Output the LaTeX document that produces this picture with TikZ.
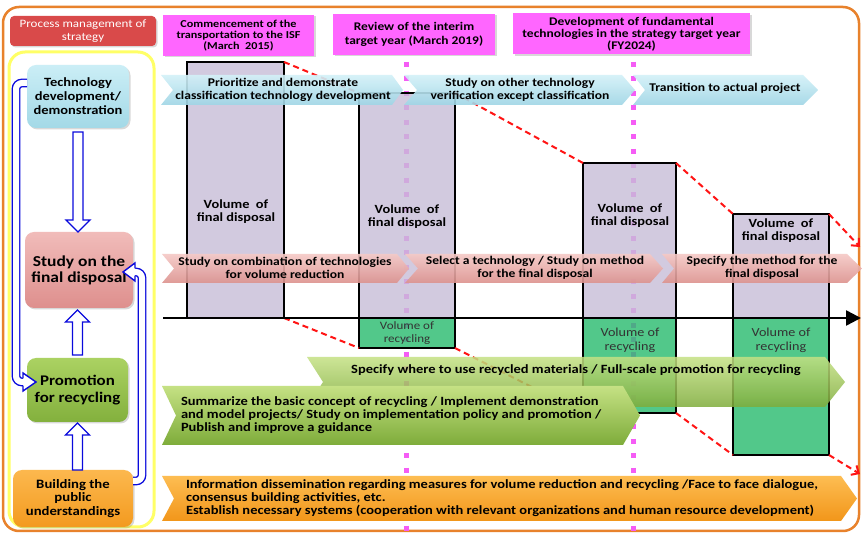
\documentclass[tikz,border=0pt]{standalone}
\usepackage{fontspec}
\setmainfont{Carlito}[FakeStretch=1.15]
\usetikzlibrary{arrows.meta,calc,shadows}
\definecolor{orfr}{HTML}{E8822C}
\definecolor{yfr}{HTML}{FFFF66}
\definecolor{titlered}{HTML}{D94A4A}
\definecolor{mag}{HTML}{FF66FF}
\definecolor{dotc}{HTML}{F55CF5}
\definecolor{barl}{RGB}{199,189,216}
\definecolor{barg}{RGB}{39,187,109}
\definecolor{lblue}{HTML}{0A0ADC}
\definecolor{cyT}{HTML}{D3F1F8}
\definecolor{cyB}{HTML}{9ED5E5}
\definecolor{pkT}{HTML}{F5C9C6}
\definecolor{pkB}{HTML}{DC918D}
\definecolor{grT}{HTML}{C5E184}
\definecolor{grB}{HTML}{7EAC3A}
\definecolor{orT}{HTML}{FDBD52}
\definecolor{orB}{HTML}{F2961A}
\definecolor{tbT}{HTML}{CBEEF6}
\definecolor{tbB}{HTML}{A3D9E7}
\definecolor{sbT}{HTML}{F1BCBA}
\definecolor{sbB}{HTML}{DE8F8D}
\definecolor{pbT}{HTML}{ABD262}
\definecolor{pbB}{HTML}{83B03D}
\definecolor{bbT}{HTML}{FCB84E}
\definecolor{bbB}{HTML}{F39A1F}
\definecolor{redd}{HTML}{FF1414}
\newcommand\fsz[2]{\fontsize{#1}{#2}\selectfont}
% chevron: style, xl, yt, xr, yb, notch, tip
\newcommand\chev[7]{\path[#1] (#2,#3) -- ({#4-#7},#3) -- (#4,{(#3+#5)/2}) -- ({#4-#7},#5) -- (#2,#5) -- ({#2+#6},{(#3+#5)/2}) -- cycle;}
% vertical block arrow from shaft start #1 to tip #2
\newcommand\varrow[2]{\draw[barrow] let \p1=(#1), \p2=(#2), \n1={ifthenelse(\y2>\y1,1,-1)} in
 ({\x1-5pt},\y1) -- ({\x1-5pt},{\y2-\n1*12pt}) -- ({\x1-12pt},{\y2-\n1*12pt}) -- (\x1,\y2) -- ({\x1+12pt},{\y2-\n1*12pt}) -- ({\x1+5pt},{\y2-\n1*12pt}) -- ({\x1+5pt},\y1) -- cycle;}
\begin{document}
\begin{tikzpicture}[x=1pt,y=-1pt,
  every node/.style={inner sep=0pt,outer sep=0pt},
  orframe/.style={draw=orfr,line width=2.5pt,rounded corners=16pt},
  yframe/.style={draw=yfr,line width=3pt,rounded corners=16pt},
  shad/.style={drop shadow={shadow xshift=1.5pt,shadow yshift=-1.5pt,opacity=0.3}},
  titlebox/.style={fill=titlered,rounded corners=4pt,minimum width=146pt,minimum height=30pt,text=white,align=center,font=\fsz{11.3}{13},shad},
  hdr/.style={fill=mag,align=center,minimum height=41pt,font=\bfseries\fsz{11.7}{12},shad},
  lbox/.style={rounded corners=9pt,align=center,font=\bfseries,shad},
  bar/.style={draw=black,line width=2pt,fill=barl,fill opacity=0.8,anchor=north west},
  gbar/.style={draw=black,line width=2pt,fill=barg,fill opacity=0.8,anchor=north west},
  bartxt/.style={align=center,font=\bfseries\fsz{12.5}{13}},
  gtxt/.style={align=center,text=black!80},
  arrtxt/.style={align=center,font=\bfseries\fsz{11.8}{13}},
  bigtxt/.style={align=left,anchor=west,font=\bfseries\fsz{12.6}{13}},
  dotl/.style={draw=dotc,line width=5pt,dash pattern=on 5pt off 9.5pt},
  rd/.style={draw=redd,line width=2pt,dash pattern=on 6pt off 4pt},
  rdarrow/.style={rd,-{Straight Barb[length=6pt,width=11pt,line width=2pt]}},
  axisl/.style={draw=black,line width=2.5pt,-{Triangle[length=15pt,width=15pt]}},
  cyarr/.style={top color=cyT,bottom color=cyB,opacity=0.9},
  pkarr/.style={top color=pkT,bottom color=pkB,opacity=0.9},
  grarr1/.style={top color=grT,bottom color=grB,opacity=0.85},
  grarr2/.style={top color=grT,bottom color=grB},
  orarr/.style={top color=orT,bottom color=orB},
  barrow/.style={draw=lblue,fill=white,line width=1.4pt,line join=miter},
  loopl/.style={draw=lblue,double=white,line width=1.4pt,double distance=6pt,rounded corners=6pt},
  loophead/.style={draw=lblue,line width=1.4pt,line join=miter}
]
\useasboundingbox (0,0) rectangle (863,534);
\fill[white] (0,0) rectangle (863,534);

% frames
\draw[orframe] (3,7) rectangle (859,531);
\draw[yframe] (9,52) rectangle (154,527);

% title and headers
\node[titlebox] (title) at (83,31) {Process management of\\strategy};
\node[hdr,minimum width=151pt,font=\bfseries\fsz{10.6}{11.3}] (h1) at (238.5,35.5) {Commencement of the\\transportation to the ISF\\(March~ 2015)};
\node[hdr,minimum width=162pt,font=\bfseries\fsz{11.7}{14}] (h2) at (414,34.5) {Review of the interim\\target year (March 2019)};
\node[hdr,minimum width=237pt] (h3) at (631.5,34) {Development of fundamental\\technologies in the strategy target year\\(FY2024)};

% dotted milestone lines
\coordinate (d1a) at (406,62); \coordinate (d1b) at (406,534);
\coordinate (d2a) at (633,62); \coordinate (d2b) at (633,534);
\draw[dotl] (d1a) -- (d1b);
\draw[dotl] (d2a) -- (d2b);

% bars
\node[bar,minimum width=97pt,minimum height=256pt] (bar1) at (187,62) {};
\node[bar,minimum width=96pt,minimum height=225pt] (bar2) at (359,93) {};
\node[bar,minimum width=93pt,minimum height=155pt] (bar3) at (583,163) {};
\node[bar,minimum width=96pt,minimum height=104pt] (bar4) at (733,214) {};
\node[gbar,minimum width=96pt,minimum height=30pt] (g1) at (359,318) {};
\node[gbar,minimum width=93pt,minimum height=95pt] (g2) at (583,318) {};
\node[gbar,minimum width=96pt,minimum height=137pt] (g3) at (733,318) {};

% red dashed trend lines
\coordinate (rtop) at (860,247);
\coordinate (rbot) at (860,474);
\draw[rd] (bar1.north east) -- (bar2.north west);
\draw[rd] (bar2.north east) -- (bar3.north west);
\draw[rd] (bar3.north east) -- (bar4.north west);
\draw[rdarrow] (bar4.north east) -- (rtop);
\draw[rd] (bar1.south east) -- (g1.south west);
\draw[rd] (g1.south east) -- (g2.south west);
\draw[rd] (g2.south east) -- (g3.south west);
\draw[rdarrow] (g3.south east) -- (rbot);

% axis
\coordinate (ax0) at (163,318); \coordinate (ax1) at (861,318);
\draw[axisl] (ax0) -- (ax1);

% bar texts
\node[bartxt] (bt1) at (236,211.5) {Volume~ of\\final disposal};
\node[bartxt] (bt2) at (407,216.5) {Volume~ of\\final disposal};
\node[bartxt] (bt3) at (630,215.5) {Volume~ of\\final disposal};
\node[bartxt] (bt4) at (781,231) {Volume~ of\\final disposal};
\node[gtxt,font=\fsz{11.3}{13}] (gt1) at (407,333.5) {Volume of\\recycling};
\node[gtxt,font=\fsz{12.3}{14}] (gt2) at (630,340) {Volume of\\recycling};
\node[gtxt,font=\fsz{12.3}{14}] (gt3) at (781,340) {Volume of\\recycling};

% cyan row
\chev{cyarr}{161}{75}{403}{105}{12}{11}
\chev{cyarr}{404}{75}{635}{105}{13}{13}
\chev{cyarr}{633}{75}{818}{105}{12}{15}
\node[arrtxt] (a1t) at (283,89.5) {Prioritize and demonstrate\\classification technology development};
\node[arrtxt] (a2t) at (520,89.5) {Study on other technology\\verification except classification};
\node[arrtxt] (a3t) at (725,88) {Transition to actual project};

% pink row
\chev{pkarr}{162}{254}{409}{283}{12}{12}
\chev{pkarr}{405}{254}{663}{283}{13}{13}
\chev{pkarr}{662}{254}{862}{283}{12}{15}
\node[arrtxt] (p1t) at (285,268) {Study on combination of technologies\\for volume reduction};
\node[arrtxt] (p2t) at (535,268) {Select a technology / Study on method\\for the final disposal};
\node[arrtxt] (p3t) at (762,268) {Specify the method for the\\final disposal};

% green rows
\chev{grarr1}{307}{357}{845}{407}{16}{20}
\node[arrtxt,font=\bfseries\fsz{12.6}{13}] (ga1t) at (576,370) {Specify where to use recycled materials / Full-scale promotion for recycling};
\chev{grarr2}{162}{386}{640}{445}{14}{17}
\node[bigtxt] (ga2t) at (181,415) {Summarize the basic concept of recycling / Implement demonstration\\and model projects/ Study on implementation policy and promotion /\\Publish and improve a guidance};

% orange row
\chev{orarr}{162}{476}{857}{521}{12}{16}
\node[bigtxt] (ort) at (186,498) {Information dissemination regarding measures for volume reduction and recycling /Face to face dialogue,\\consensus building activities, etc.\\Establish necessary systems (cooperation with relevant organizations and human resource development)};

% left boxes
\node[lbox,top color=tbT,bottom color=tbB,minimum width=102pt,minimum height=63pt,font=\bfseries\fsz{12.6}{14}] (tech) at (78,96.5) {Technology\\development/\\demonstration};
\node[lbox,top color=sbT,bottom color=sbB,minimum width=108pt,minimum height=76pt,font=\bfseries\fsz{15.2}{16}] (study) at (79,270) {Study on the\\final disposal};
\node[lbox,top color=pbT,bottom color=pbB,minimum width=101pt,minimum height=64pt,font=\bfseries\fsz{14.7}{17}] (prom) at (77.5,390) {Promotion\\for recycling};
\node[lbox,top color=bbT,bottom color=bbB,minimum width=120pt,minimum height=57pt,font=\bfseries\fsz{12.8}{13.5}] (build) at (73,498.5) {Building the\\public\\understandings};

% block arrows
\varrow{$(tech.south)+(0,4)$}{study.north}
\varrow{$(prom.north)+(0,-3)$}{$(study.south)+(0,2)$}
\varrow{build.north -| prom.south}{$(prom.south)+(0,1)$}

% feedback loops
\coordinate (la) at ($(tech.north west)+(0,18)$);
\coordinate (le) at ($(prom.west)+(-4,-8)$);
\draw[loopl] (la) -- ++(-11,0) |- (le);
\fill[white] ($(le)+(0,-9)$) -- ($(le)+(13,0)$) -- ($(le)+(0,9)$) -- cycle;
\draw[loophead] ($(le)+(0,-3.7)$) -- ($(le)+(0,-9)$) -- ($(le)+(13,0)$) -- ($(le)+(0,9)$) -- ($(le)+(0,3.7)$);
\coordinate (ra) at ($(build.north east)+(0,11)$);
\coordinate (re) at ($(study.east)+(2,2)$);
\draw[loopl] (ra) -- ++(9,0) |- (re);
\fill[white] ($(re)+(0,-9)$) -- ($(re)+(-12,0)$) -- ($(re)+(0,9)$) -- cycle;
\draw[loophead] ($(re)+(0,-3.7)$) -- ($(re)+(0,-9)$) -- ($(re)+(-12,0)$) -- ($(re)+(0,9)$) -- ($(re)+(0,3.7)$);
\end{tikzpicture}
\end{document}
